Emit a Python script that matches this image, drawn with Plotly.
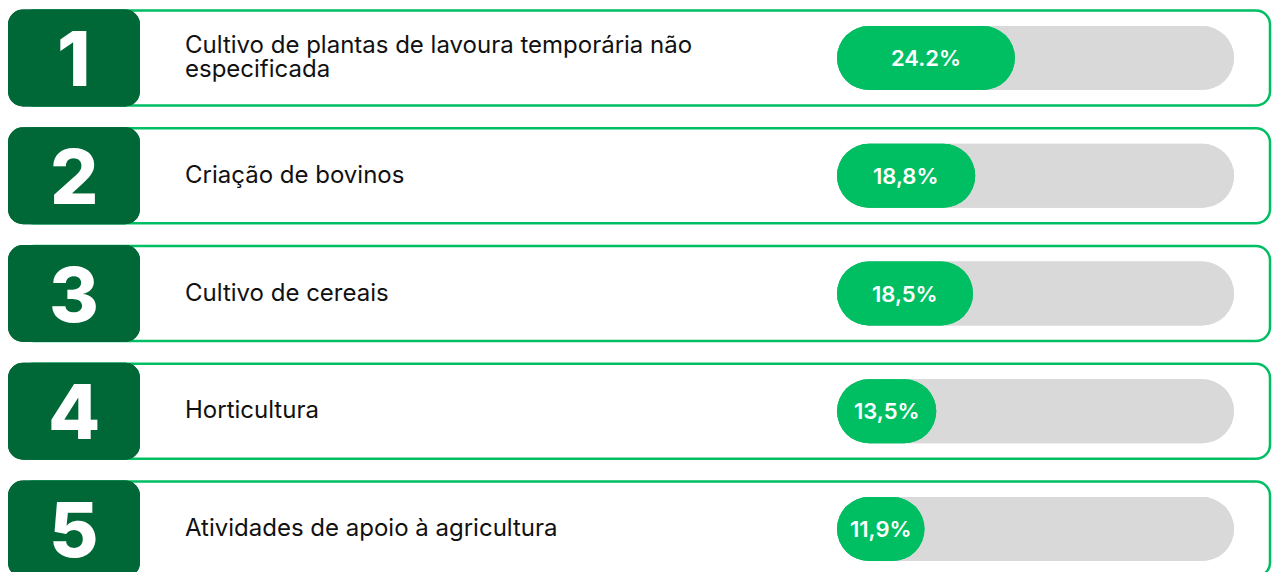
import plotly.graph_objects as go

# data
RANKS = ["1", "2", "3", "4", "5"]
LABELS = [
    "Cultivo de plantas de lavoura temporária não<br>especificada",
    "Criação de bovinos",
    "Cultivo de cereais",
    "Horticultura",
    "Atividades de apoio à agricultura",
]
VALUES = [24.2, 18.8, 18.5, 13.5, 11.9]
VALUE_TEXT = ["24.2%", "18,8%", "18,5%", "13,5%", "11,9%"]

# styles / layout (pixels)
W, H = 1273, 572
DARK = "#006837"
GREEN = "#00BF63"
TRACK = "#D9D9D9"
FONT = "Inter"
ROW0, PITCH = 58, 117.75
TRACK_X0, TRACK_X1 = 837, 1234
TRACK_MAX = 54

rows = list(range(len(VALUES)))
px_y = 1 / PITCH  # y units per pixel
s = (TRACK_X1 - TRACK_X0) / TRACK_MAX  # pixels per value unit

fig = go.Figure()

# cards (right end rounded, left hidden under the number box)
fig.add_trace(go.Bar(
    y=rows, x=[1250] * 5, base=[20] * 5, orientation="h", width=95 * px_y,
    marker=dict(color="white", line=dict(color=GREEN, width=2.5), cornerradius=14),
    xaxis="x", yaxis="y", hoverinfo="skip",
))
# number boxes, two halves so both ends get rounded
for base, length in [(8, 132), (140, -132)]:
    fig.add_trace(go.Bar(
        y=rows, x=[length] * 5, base=[base] * 5, orientation="h", width=97 * px_y,
        marker=dict(color=DARK, line=dict(width=0), cornerradius=15),
        xaxis="x", yaxis="y", hoverinfo="skip",
    ))

# progress tracks and fills on the value axis
for color, lengths in [(TRACK, [TRACK_MAX] * 5), (GREEN, VALUES)]:
    fig.add_trace(go.Bar(
        y=rows, x=lengths, base=[0] * 5, orientation="h", width=64 * px_y,
        marker=dict(color=color, line=dict(width=0), cornerradius="50%"),
        xaxis="x2", yaxis="y", hoverinfo="skip",
    ))
    fig.add_trace(go.Bar(
        y=rows, x=[-v for v in lengths], base=lengths, orientation="h", width=64 * px_y,
        marker=dict(color=color, line=dict(width=0), cornerradius="50%"),
        xaxis="x2", yaxis="y", hoverinfo="skip",
    ))

annotations = []
for r, rank, label, v, vt in zip(rows, RANKS, LABELS, VALUES, VALUE_TEXT):
    annotations.append(dict(
        x=74, y=r, xref="x", yref="y", text=rank, showarrow=False,
        font=dict(family=FONT, size=76, color="white", weight=800),
        xanchor="center", yanchor="middle",
    ))
    lines = label.split("<br>")
    n = len(lines)
    for i, line in enumerate(lines):
        off = (i - (n - 1) / 2) * 24 * px_y
        annotations.append(dict(
            x=183, y=r + off - 1.5 * px_y, xref="x", yref="y", text=line, showarrow=False,
            font=dict(family=FONT, size=24, color="#111111"),
            xanchor="left", yanchor="middle",
        ))
    annotations.append(dict(
        x=v / 2, y=r, xref="x2", yref="y", text=vt, showarrow=False,
        font=dict(family=FONT, size=22, color="white", weight=600),
        xanchor="center", yanchor="middle",
    ))

fig.update_layout(
    width=W, height=H,
    margin=dict(l=0, r=0, t=0, b=0),
    paper_bgcolor="white", plot_bgcolor="white",
    barmode="overlay", showlegend=False, hovermode=False,
    xaxis=dict(range=[0, W], domain=[0, 1], visible=False, fixedrange=True),
    xaxis2=dict(range=[-TRACK_X0 / s, (W - TRACK_X0) / s], overlaying="x",
                visible=False, fixedrange=True),
    yaxis=dict(range=[(H - ROW0) * px_y, -ROW0 * px_y], visible=False, fixedrange=True),
    annotations=annotations,
)

fig.write_html("out.html", config={"displayModeBar": False},
               post_script="document.body.style.margin='0';")
